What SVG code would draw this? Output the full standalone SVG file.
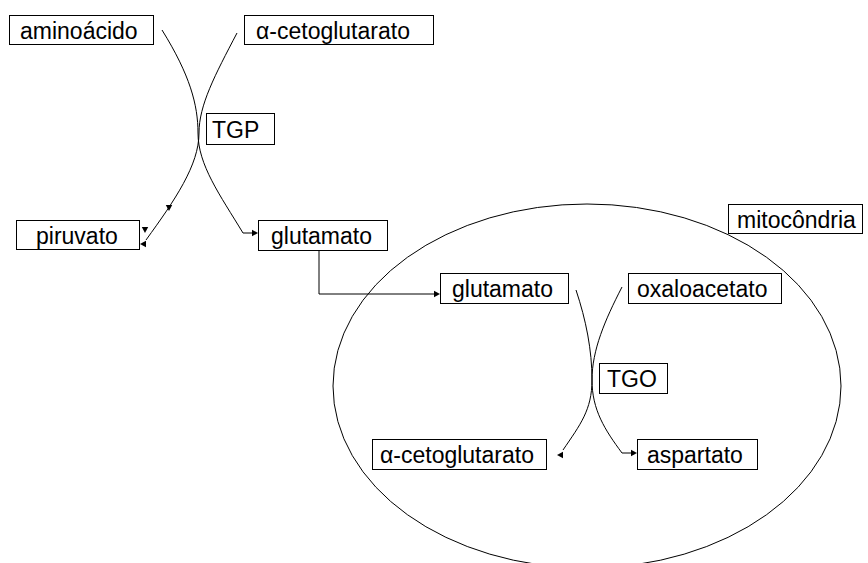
<svg xmlns="http://www.w3.org/2000/svg" width="868" height="563" viewBox="0 0 868 563">
<style>
.box{fill:#fff;stroke:#000;stroke-width:1}
.lbl{font-family:"Liberation Sans",Arial,sans-serif;font-size:23px;fill:#000}
.con{fill:none;stroke:#000;stroke-width:1}
.ah{fill:#000;stroke:none}
</style>
<defs>
<path id="ah" d="M0,0 L-6,-3.2 L-6,3.2 Z"/>
</defs>
<g id="mitocondria-region">
<ellipse cx="587" cy="386" rx="254" ry="182" fill="none" stroke="#000" stroke-width="1"/>
</g>
<g id="connectors">
<path class="con" d="M162,30 C190,75 198,105 198,133 C198,165 220,195 243,233 L254,233"/>
<path class="con" d="M237,33 C215,75 199,105 199,133 C199,165 175,200 146,240"/>
<path class="con" d="M319,250 L319,294 L436,294"/>
<path class="con" d="M576,290 C586,320 592,350 592,380 C592,410 605,430 622,453 L634,453"/>
<path class="con" d="M622,287 C605,320 592,350 592,380 C592,410 580,425 563,450"/>
<use href="#ah" class="ah" transform="translate(258,233)"/>
<use href="#ah" class="ah" transform="translate(440,294)"/>
<use href="#ah" class="ah" transform="translate(637,453)"/>
<use href="#ah" class="ah" transform="translate(557,455) rotate(180)"/>
<use href="#ah" class="ah" transform="translate(169,211) rotate(90)"/>
<use href="#ah" class="ah" transform="translate(145,233) rotate(90)"/>
<use href="#ah" class="ah" transform="translate(140,244) rotate(180)"/>
</g>
<g id="aminoacido"><rect class="box" x="9.5" y="15.5" width="144" height="29"/><text class="lbl" x="20" y="39">aminoácido</text></g>
<g id="cetoglutarato-top"><rect class="box" x="244.5" y="15.5" width="189" height="29"/><text class="lbl" x="256" y="39">α-cetoglutarato</text></g>
<g id="TGP"><rect class="box" x="206.5" y="113.5" width="68" height="31"/><text class="lbl" x="212" y="138">TGP</text></g>
<g id="piruvato"><rect class="box" x="16.5" y="220.5" width="123" height="29"/><text class="lbl" x="36" y="244">piruvato</text></g>
<g id="glutamato-top"><rect class="box" x="258.5" y="220.5" width="129" height="30"/><text class="lbl" x="271" y="244">glutamato</text></g>
<g id="mitocondria"><rect class="box" x="728.5" y="204.5" width="134" height="29"/><text class="lbl" x="737" y="228">mitocôndria</text></g>
<g id="glutamato-inner"><rect class="box" x="440.5" y="273.5" width="128" height="30"/><text class="lbl" x="452" y="297">glutamato</text></g>
<g id="oxaloacetato"><rect class="box" x="628.5" y="273.5" width="153" height="30"/><text class="lbl" x="637" y="297">oxaloacetato</text></g>
<g id="TGO"><rect class="box" x="599.5" y="363.5" width="68" height="30"/><text class="lbl" x="607" y="387">TGO</text></g>
<g id="cetoglutarato-inner"><rect class="box" x="372.5" y="439.5" width="174" height="30"/><text class="lbl" x="380" y="463">α-cetoglutarato</text></g>
<g id="aspartato"><rect class="box" x="637.5" y="439.5" width="120" height="30"/><text class="lbl" x="647" y="463">aspartato</text></g>
</svg>
